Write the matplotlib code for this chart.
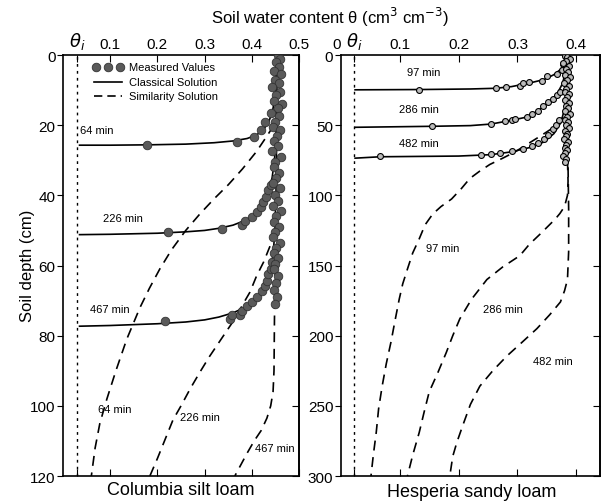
import matplotlib.pyplot as plt

plt.rcParams['font.family'] = ['Liberation Sans', 'DejaVu Sans']
plt.rcParams['mathtext.fontset'] = 'dejavusans'

# ---------------- Columbia silt loam (left) ----------------
c_theta_i = 0.03
# classical solution (solid)
c64_th = [0.035, 0.10, 0.18, 0.26, 0.32, 0.36, 0.39, 0.41, 0.425, 0.436, 0.444, 0.45, 0.453]
c64_d = [25.7, 25.7, 25.6, 25.4, 25.0, 24.5, 23.8, 22.8, 21.2, 19, 16, 11, 0]
c226_th = [0.035, 0.10, 0.20, 0.26, 0.30, 0.33, 0.36, 0.385, 0.40, 0.415, 0.427, 0.436,
           0.443, 0.448, 0.452, 0.453]
c226_d = [51.2, 51.1, 50.8, 50.4, 50.0, 49.4, 48.5, 47.2, 46, 44, 41.5, 38.5, 35, 30, 20, 0]
c467_th = [0.035, 0.10, 0.20, 0.26, 0.30, 0.33, 0.36, 0.38, 0.40, 0.415, 0.428, 0.438,
           0.445, 0.449, 0.452, 0.453]
c467_d = [77.3, 77.1, 76.6, 76.1, 75.5, 74.7, 73.5, 72.3, 70.6, 68.5, 65.5, 62, 57, 50, 35, 0]
# similarity solution (dashed)
s64_th = [0.447, 0.43, 0.41, 0.38, 0.35, 0.32, 0.29, 0.26, 0.23, 0.205, 0.183, 0.163,
          0.135, 0.112, 0.093, 0.078, 0.068, 0.06]
s64_d = [20, 23.5, 27.5, 32.5, 37, 41, 45.3, 50, 55.5, 61, 66.5, 72, 81, 90, 98, 105, 112, 120]
s226_th = [0.45, 0.44, 0.425, 0.41, 0.396, 0.38, 0.368, 0.35, 0.33, 0.31, 0.29, 0.27, 0.25,
           0.233, 0.215, 0.2, 0.184]
s226_d = [50, 54, 59, 63, 67.6, 71.3, 74.4, 78, 82, 86, 90.4, 95, 100, 104, 110, 115, 120]
s467_th = [0.45, 0.448, 0.447, 0.445, 0.44, 0.432, 0.42, 0.405, 0.39, 0.376, 0.364]
s467_d = [60, 75, 90, 96, 100, 103.5, 107, 110, 113.5, 117, 120]
# measured values
m_left_th = [0.178, 0.369, 0.405, 0.42, 0.428,
             0.222, 0.337, 0.38, 0.385, 0.40, 0.41, 0.42, 0.424, 0.43, 0.435, 0.44,
             0.216, 0.354, 0.358, 0.376, 0.38, 0.39, 0.40, 0.411, 0.421, 0.428, 0.432,
             0.435, 0.44, 0.443,
             0.455, 0.46, 0.452, 0.458, 0.448, 0.462, 0.45, 0.457, 0.443, 0.46,
             0.452, 0.446, 0.463, 0.455, 0.44, 0.458, 0.45, 0.445, 0.46, 0.453,
             0.448, 0.456, 0.442, 0.461, 0.45, 0.447, 0.458, 0.452, 0.444, 0.46,
             0.449, 0.455, 0.445, 0.462, 0.451, 0.447, 0.457, 0.45, 0.444, 0.459,
             0.452, 0.446, 0.456, 0.45, 0.448, 0.455, 0.451, 0.447, 0.454, 0.45]
m_left_d = [25.6, 24.8, 23.4, 21.5, 19,
            50.5, 49.6, 48.5, 47.4, 46.2, 44.8, 43.3, 41.9, 40.5, 38.5, 37,
            75.8, 75.2, 74.2, 74.2, 73, 71.6, 70.5, 69, 67.3, 65.9, 64.4,
            62.3, 61, 59,
            0, 1, 2, 3.5, 4.5, 5.5, 7, 8, 9, 10.5,
            11.5, 13, 14, 15, 16.5, 17.5, 19, 20.5, 21.5, 23,
            24.5, 26, 27.5, 29, 30.5, 32, 33.5, 35, 36.5, 38,
            40, 41.5, 43, 44.5, 46, 47.5, 49, 50.5, 52, 53.5,
            55, 56.5, 58, 59.5, 61, 63, 65, 67, 69, 71]

# ---------------- Hesperia sandy loam (right) ----------------
h_theta_i = 0.022
h97_th = [0.024, 0.133, 0.22, 0.263, 0.29, 0.32, 0.345, 0.362, 0.374, 0.38, 0.383]
h97_d = [24.8, 24.6, 24.2, 23.7, 22.5, 20, 17.5, 14, 10, 5, 0]
h286_th = [0.024, 0.154, 0.22, 0.255, 0.29, 0.316, 0.335, 0.352, 0.367, 0.377, 0.382, 0.385]
h286_d = [51.5, 50.8, 50.3, 49.2, 46.5, 44.2, 39.7, 34, 28, 20, 10, 0]
h482_th = [0.024, 0.067, 0.20, 0.255, 0.29, 0.32, 0.345, 0.362, 0.374, 0.382, 0.385]
h482_d = [73.5, 72.5, 72, 71, 69, 66, 62, 56, 48, 35, 0]
hs97_th = [0.378, 0.36, 0.338, 0.315, 0.296, 0.275, 0.253, 0.235, 0.219, 0.205, 0.188,
           0.17, 0.156, 0.143, 0.133, 0.122, 0.113, 0.105, 0.099, 0.092, 0.085, 0.077,
           0.070, 0.064, 0.060, 0.055, 0.051]
hs97_d = [44, 52, 58, 64, 69, 73.5, 78, 83, 88, 95, 102.6, 108, 113.3, 121, 131, 141,
          152.5, 163, 174, 189, 204.5, 220, 236, 252, 268.7, 285, 300]
hs286_th = [0.385, 0.386, 0.385, 0.38, 0.372, 0.364, 0.34, 0.32, 0.304, 0.275, 0.248,
            0.222, 0.202, 0.19, 0.179, 0.165, 0.150, 0.141, 0.133, 0.122, 0.113]
hs286_d = [75, 90, 100, 108, 113, 117, 127, 135, 143, 151, 160, 174, 188, 200, 212, 226,
           240, 255, 269, 285, 300]
hs482_th = [0.386, 0.387, 0.387, 0.385, 0.38, 0.373, 0.355, 0.333, 0.307, 0.282, 0.258,
            0.236, 0.22, 0.207, 0.197, 0.190, 0.185]
hs482_d = [80, 110, 140, 160, 168, 176, 185, 195, 205, 214.5, 225, 236, 249, 264, 276,
           286, 300]
m_right_th = [0.133, 0.263, 0.28, 0.304, 0.31, 0.32, 0.342, 0.35, 0.367, 0.376, 0.378,
              0.154, 0.255, 0.279, 0.29, 0.296, 0.316, 0.325, 0.335, 0.344, 0.352, 0.361, 0.367, 0.373,
              0.067, 0.238, 0.255, 0.27, 0.29, 0.31, 0.325, 0.335, 0.345, 0.352, 0.36, 0.365, 0.37,
              0.381, 0.385, 0.39, 0.383, 0.378, 0.388, 0.382, 0.386, 0.38, 0.389,
              0.384, 0.379, 0.387, 0.383, 0.381, 0.388, 0.385, 0.38, 0.387, 0.383,
              0.386, 0.381, 0.389, 0.384, 0.38, 0.386, 0.383, 0.388, 0.381, 0.385,
              0.383, 0.379, 0.386, 0.382, 0.38, 0.384, 0.381, 0.378, 0.383, 0.38]
m_right_d = [24.7, 23.7, 22.6, 21.9, 20.2, 19, 18.5, 15, 13.5, 10.5, 6.4,
             50.8, 49.2, 46.8, 46.3, 45.6, 44.2, 42, 39.7, 36, 33.7, 31.4, 28.5, 26.6,
             72, 71.5, 70.5, 69.5, 68.5, 67, 65, 63, 60, 57, 53, 50, 46,
             0.5, 1.5, 3, 4.5, 6, 8, 10, 12, 14, 16,
             18, 20, 22, 24, 26, 28, 30, 32, 34, 36,
             38, 40, 42, 44, 46, 48, 50, 52, 54, 56,
             58, 60, 62, 64, 66, 68, 70, 72, 74, 76]

fig = plt.figure(figsize=(6.02, 5.02), dpi=100)
axL = fig.add_axes([0.1047, 0.0498, 0.392, 0.8386])
axR = fig.add_axes([0.5664, 0.0498, 0.430, 0.8386])

def style(ax, xlim, ylim, yticks, xticks, xlabels):
    ax.set_xlim(*xlim)
    ax.set_ylim(ylim[1], ylim[0])
    ax.xaxis.tick_top()
    ax.set_xticks(xticks)
    ax.set_xticklabels(xlabels, fontsize=11)
    ax.tick_params(axis='x', which='both', direction='in', top=True, bottom=True,
                   length=5, pad=3)
    ax.set_yticks(yticks)
    ax.tick_params(axis='y', direction='out', length=4, pad=1.5, labelsize=11)
    sec = ax.secondary_yaxis('right')
    sec.set_yticks(yticks)
    sec.tick_params(direction='in', length=5, labelright=False)
    for s in ax.spines.values():
        s.set_linewidth(1.2)
    sec.spines['right'].set_linewidth(1.2)

style(axL, (0, 0.5), (0, 120), [0, 20, 40, 60, 80, 100, 120],
      [c_theta_i, 0.1, 0.2, 0.3, 0.4, 0.5],
      [r'$\theta_i$', '0.1', '0.2', '0.3', '0.4', '0.5'])
style(axR, (0, 0.44), (0, 300), [0, 50, 100, 150, 200, 250, 300],
      [0, h_theta_i, 0.1, 0.2, 0.3, 0.4],
      ['0', r'$\theta_i$', '0.1', '0.2', '0.3', '0.4'])
for t in axR.get_xticklines()[:2]:
    t.set_visible(False)
axR.get_xticklabels()[0].set_ha('right')
for lab in axL.get_xticklabels() + axR.get_xticklabels():
    if 'theta' in lab.get_text():
        lab.set_fontsize(13)

# left panel
axL.axvline(c_theta_i, color='k', ls=(0, (2, 3)), lw=1)
axL.plot(c64_th, c64_d, 'k-', lw=1.2)
axL.plot(c226_th, c226_d, 'k-', lw=1.2)
axL.plot(c467_th, c467_d, 'k-', lw=1.2)
axL.plot(s64_th, s64_d, 'k--', lw=1.2, dashes=(6, 4))
axL.plot(s226_th, s226_d, 'k--', lw=1.2, dashes=(6, 4))
axL.plot(s467_th, s467_d, 'k--', lw=1.2, dashes=(6, 4))
axL.scatter(m_left_th, m_left_d, s=38, color='#5a5a5a', edgecolor='#333333',
            linewidth=0.6, zorder=3)
axL.text(0.036, 22.2, '64 min', fontsize=8)
axL.text(0.085, 47.3, '226 min', fontsize=8)
axL.text(0.057, 73.2, '467 min', fontsize=8)
axL.text(0.11, 101.8, '64 min', fontsize=8, ha='center')
axL.text(0.29, 104, '226 min', fontsize=8, ha='center')
axL.text(0.449, 112.9, '467 min', fontsize=8, ha='center')

# legend
axL.scatter([0.07, 0.095, 0.12], [3.5, 3.5, 3.5], s=38, color='#5a5a5a',
            edgecolor='#333333', linewidth=0.6)
axL.plot([0.065, 0.125], [7.6, 7.6], 'k-', lw=1.2)
axL.plot([0.065, 0.125], [11.7, 11.7], 'k--', lw=1.2, dashes=(5, 3))
axL.text(0.14, 3.5, 'Measured Values', fontsize=8, va='center')
axL.text(0.14, 7.6, 'Classical Solution', fontsize=8, va='center')
axL.text(0.14, 11.7, 'Similarity Solution', fontsize=8, va='center')

# right panel
axR.axvline(h_theta_i, color='k', ls=(0, (2, 3)), lw=1)
axR.plot(h97_th, h97_d, 'k-', lw=1.2)
axR.plot(h286_th, h286_d, 'k-', lw=1.2)
axR.plot(h482_th, h482_d, 'k-', lw=1.2)
axR.plot(hs97_th, hs97_d, 'k--', lw=1.2, dashes=(6, 4))
axR.plot(hs286_th, hs286_d, 'k--', lw=1.2, dashes=(6, 4))
axR.plot(hs482_th, hs482_d, 'k--', lw=1.2, dashes=(6, 4))
axR.scatter(m_right_th, m_right_d, s=18, color='#bbbbbb', edgecolor='black',
            linewidth=0.8, zorder=3)
axR.text(0.14, 14.3, '97 min', fontsize=8, ha='center')
axR.text(0.133, 40.4, '286 min', fontsize=8, ha='center')
axR.text(0.133, 64.6, '482 min', fontsize=8, ha='center')
axR.text(0.173, 137.5, '97 min', fontsize=8, ha='center', va='center')
axR.text(0.275, 181, '286 min', fontsize=8, ha='center', va='center')
axR.text(0.361, 218, '482 min', fontsize=8, ha='center', va='center')

fig.text(0.548, 0.965, 'Soil water content θ (cm$^3$ cm$^{-3}$)', fontsize=12,
         ha='center', va='center')
fig.text(0.045, 0.47, 'Soil depth (cm)', fontsize=12, rotation=90,
         ha='center', va='center')
fig.text(0.30, 0.022, 'Columbia silt loam', fontsize=13, ha='center', va='center')
fig.text(0.783, 0.018, 'Hesperia sandy loam', fontsize=13, ha='center', va='center')

fig.savefig('out.png', dpi=100)
